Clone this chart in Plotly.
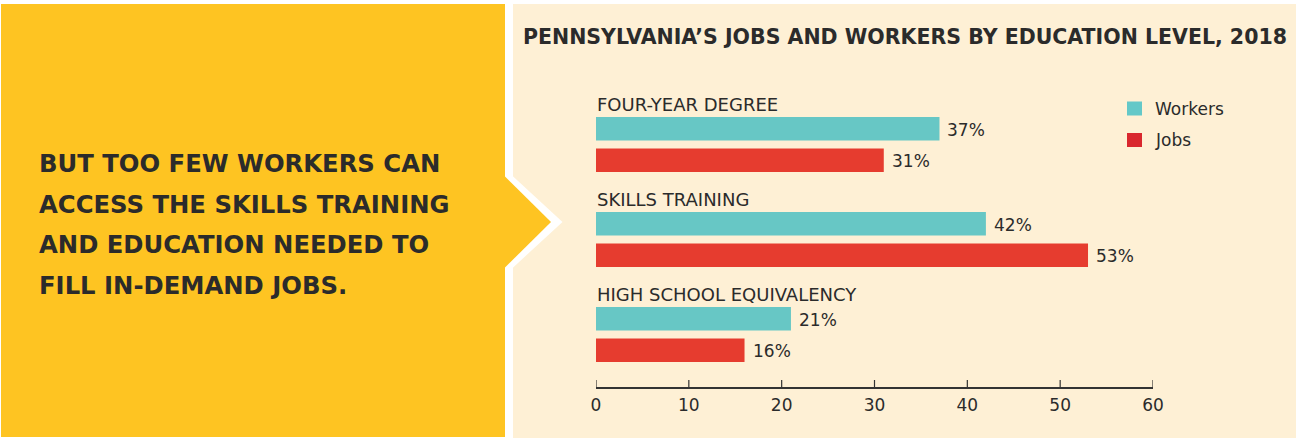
import plotly.graph_objects as go

# ---- data ----
categories = ["FOUR-YEAR DEGREE", "SKILLS TRAINING", "HIGH SCHOOL EQUIVALENCY"]
series_names = ["Workers", "Jobs"]
workers = [37, 42, 21]
jobs = [31, 53, 16]
x_ticks = [0, 10, 20, 30, 40, 50, 60]
title_text = "PENNSYLVANIA\u2019S JOBS AND WORKERS BY EDUCATION LEVEL, 2018"
side_lines = ["BUT TOO FEW WORKERS CAN", "ACCESS THE SKILLS TRAINING",
              "AND EDUCATION NEEDED TO", "FILL IN-DEMAND JOBS."]

# ---- style ----
W, H = 1296, 438
ML, MR, MT, MB = 596, 143, 97, 51
PW, PH = W - ML - MR, H - MT - MB
TEAL, RED = "#67C7C5", "#E63C2F"
LEG_TEAL, LEG_RED = "#64C8C8", "#D9272E"
YELLOW, CREAM = "#FEC422", "#FEF0D5"
TXT = "#2B2B2B"
AXC = "#333333"
FONT = "DejaVu Sans"
TICK_LEN = 7


def px(x):
    return (x - ML) / PW


def py(y):
    return 1 - (y - MT) / PH


fig = go.Figure()
values = [workers, jobs]
colors = [TEAL, RED]
for name, vals, col in zip(series_names, values, colors):
    fig.add_trace(go.Bar(
        y=categories, x=vals, name=name, orientation="h",
        marker=dict(color=col, line=dict(width=0)),
        showlegend=False, hoverinfo="x+name",
    ))

# tick marks pointing up from the axis line (on a hidden pixel-scaled overlay axis)
tx, ty = [], []
for t in x_ticks:
    tx += [t, t, None]
    ty += [0, TICK_LEN, None]
fig.add_trace(go.Scatter(x=tx, y=ty, yaxis="y2", mode="lines",
                         line=dict(color=AXC, width=1.2), showlegend=False,
                         hoverinfo="skip", cliponaxis=False))

shapes = []
# cream panel
shapes.append(dict(type="rect", xref="paper", yref="paper", layer="below",
                   x0=px(513), x1=px(1296), y0=py(4), y1=py(438),
                   fillcolor=CREAM, line=dict(width=0)))
# white chevron outline of the arrow
shapes.append(dict(type="path", xref="paper", yref="paper", layer="below",
                   path=f"M{px(500)},{py(164.5)} L{px(562.5)},{py(222)} L{px(500)},{py(279.5)} Z",
                   fillcolor="white", line=dict(width=0)))
# yellow panel
shapes.append(dict(type="rect", xref="paper", yref="paper", layer="below",
                   x0=px(1), x1=px(505), y0=py(4), y1=py(437),
                   fillcolor=YELLOW, line=dict(width=0)))
# yellow arrow
shapes.append(dict(type="path", xref="paper", yref="paper", layer="below",
                   path=f"M{px(504)},{py(175.5)} L{px(551)},{py(222)} L{px(504)},{py(268.5)} Z",
                   fillcolor=YELLOW, line=dict(width=0)))

annotations = []
# title
annotations.append(dict(text=f"<b>{title_text}</b>", xref="paper", yref="paper",
                        x=px(521), y=py(36.5), xanchor="left", yanchor="middle",
                        showarrow=False, font=dict(family=FONT, size=20.5, color=TXT)))
# side text
for i, line in enumerate(side_lines):
    annotations.append(dict(text=f"<b>{line}</b>", xref="paper", yref="paper",
                            x=px(37), y=py(163.5 + i * 40.5), xanchor="left", yanchor="middle",
                            showarrow=False, font=dict(family=FONT, size=24.3, color=TXT)))
# category labels
for cat in categories:
    annotations.append(dict(text=cat, xref="x", yref="y", x=0, y=cat,
                            xanchor="left", yanchor="middle", yshift=40, xshift=-1,
                            showarrow=False, font=dict(family=FONT, size=18, color=TXT)))
# value labels
for vals, off in zip(values, [15, -16]):
    for cat, v in zip(categories, vals):
        annotations.append(dict(text=f"{v}%", xref="x", yref="y", x=v, y=cat,
                                xanchor="left", yanchor="middle", xshift=6, yshift=off,
                                showarrow=False, font=dict(family=FONT, size=17, color=TXT)))
# legend
for i, (name, col) in enumerate(zip(series_names, [LEG_TEAL, LEG_RED])):
    cy = 108.5 + i * 31.5
    shapes.append(dict(type="rect", xref="paper", yref="paper",
                       x0=px(1127), x1=px(1142), y0=py(cy - 7), y1=py(cy + 7),
                       fillcolor=col, line=dict(width=0)))
    annotations.append(dict(text=name, xref="paper", yref="paper",
                            x=px(1153), y=py(cy), xanchor="left", yanchor="middle",
                            showarrow=False, font=dict(family=FONT, size=17, color=TXT)))

fig.update_layout(
    width=W, height=H,
    margin=dict(l=ML, r=MR, t=MT, b=MB, pad=0),
    paper_bgcolor="white", plot_bgcolor="rgba(0,0,0,0)",
    barmode="group", bargap=0.34, bargroupgap=0.25,
    shapes=shapes, annotations=annotations,
    font=dict(family=FONT, color=TXT),
    xaxis=dict(range=[0, 60], tickvals=x_ticks, showgrid=False, zeroline=False,
               showline=True, linecolor=AXC, linewidth=1.5, ticks="",
               tickfont=dict(family=FONT, size=17, color=TXT), ticklabelstandoff=2,
               fixedrange=True),
    yaxis=dict(categoryorder="array", categoryarray=categories, autorange="reversed",
               showticklabels=False, showgrid=False, zeroline=False, showline=False,
               fixedrange=True),
    yaxis2=dict(overlaying="y", range=[0, PH], visible=False, fixedrange=True),
)

fig.write_html("out.html", config={"displayModeBar": False},
               post_script="document.body.style.margin='0';document.body.style.overflow='hidden';")
